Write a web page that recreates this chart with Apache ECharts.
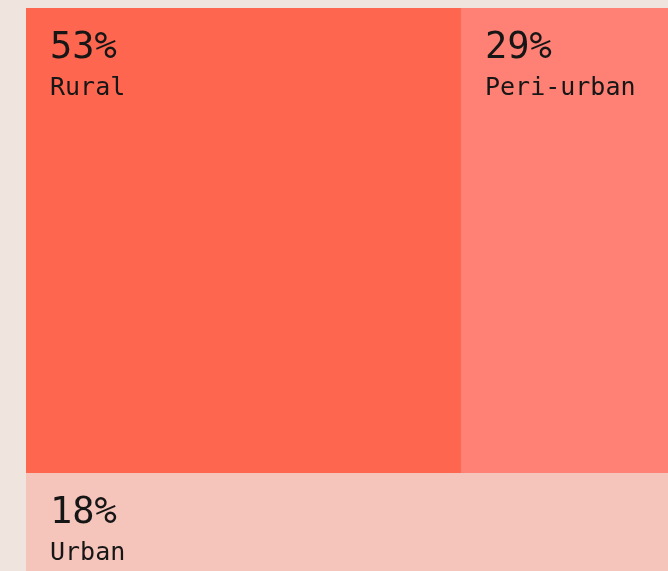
<!DOCTYPE html>
<html>
<head>
<meta charset="utf-8">
<script src="https://cdn.jsdelivr.net/npm/echarts@6/dist/echarts.min.js"></script>
<style>
  html, body { margin: 0; padding: 0; background: #f0e4df; }
  #main { width: 668px; height: 571px; }
</style>
</head>
<body>
<div id="main"></div>
<script>
// data
var categories = ['Rural', 'Peri-urban', 'Urban'];
var shares = [53, 29, 18];

var colors = ['#ff6650', '#ff8074', '#f5c4ba'];

// top row holds the first two, bottom row the last one
var topTotal = shares[0] + shares[1];
var total = topTotal + shares[2];
var cells = [
    [0, shares[0], shares[2], total, 0],
    [shares[0], topTotal, shares[2], total, 1],
    [0, topTotal, 0, shares[2], 2]
];

var myChart = echarts.init(document.getElementById('main'));

var option = {
    backgroundColor: '#f0e4df',
    animation: false,
    // grid runs past the right and bottom edge, like the cropped original
    grid: { left: 26, top: 8, width: 673, height: 567, outerBoundsMode: 'none' },
    xAxis: { type: 'value', min: 0, max: topTotal, show: false },
    yAxis: { type: 'value', min: 0, max: total, show: false },
    series: [{
        type: 'custom',
        clip: false,
        data: cells,
        renderItem: function (params, api) {
            var p0 = api.coord([api.value(0), api.value(3)]);
            var p1 = api.coord([api.value(1), api.value(2)]);
            var i = api.value(4);
            return {
                type: 'group',
                children: [
                    {
                        type: 'rect',
                        shape: { x: p0[0], y: p0[1], width: p1[0] - p0[0], height: p1[1] - p0[1] },
                        style: { fill: colors[i] }
                    },
                    {
                        type: 'text',
                        x: p0[0] + 24,
                        y: p0[1] + 22,
                        style: {
                            text: shares[i] + '%',
                            font: '37px "DejaVu Sans Mono"',
                            fill: '#161616',
                            verticalAlign: 'top'
                        }
                    },
                    {
                        type: 'text',
                        x: p0[0] + 24,
                        y: p0[1] + 68,
                        style: {
                            text: categories[i],
                            font: '25px "DejaVu Sans Mono"',
                            fill: '#161616',
                            verticalAlign: 'top'
                        }
                    }
                ]
            };
        }
    }]
};

myChart.setOption(option);
</script>
</body>
</html>
